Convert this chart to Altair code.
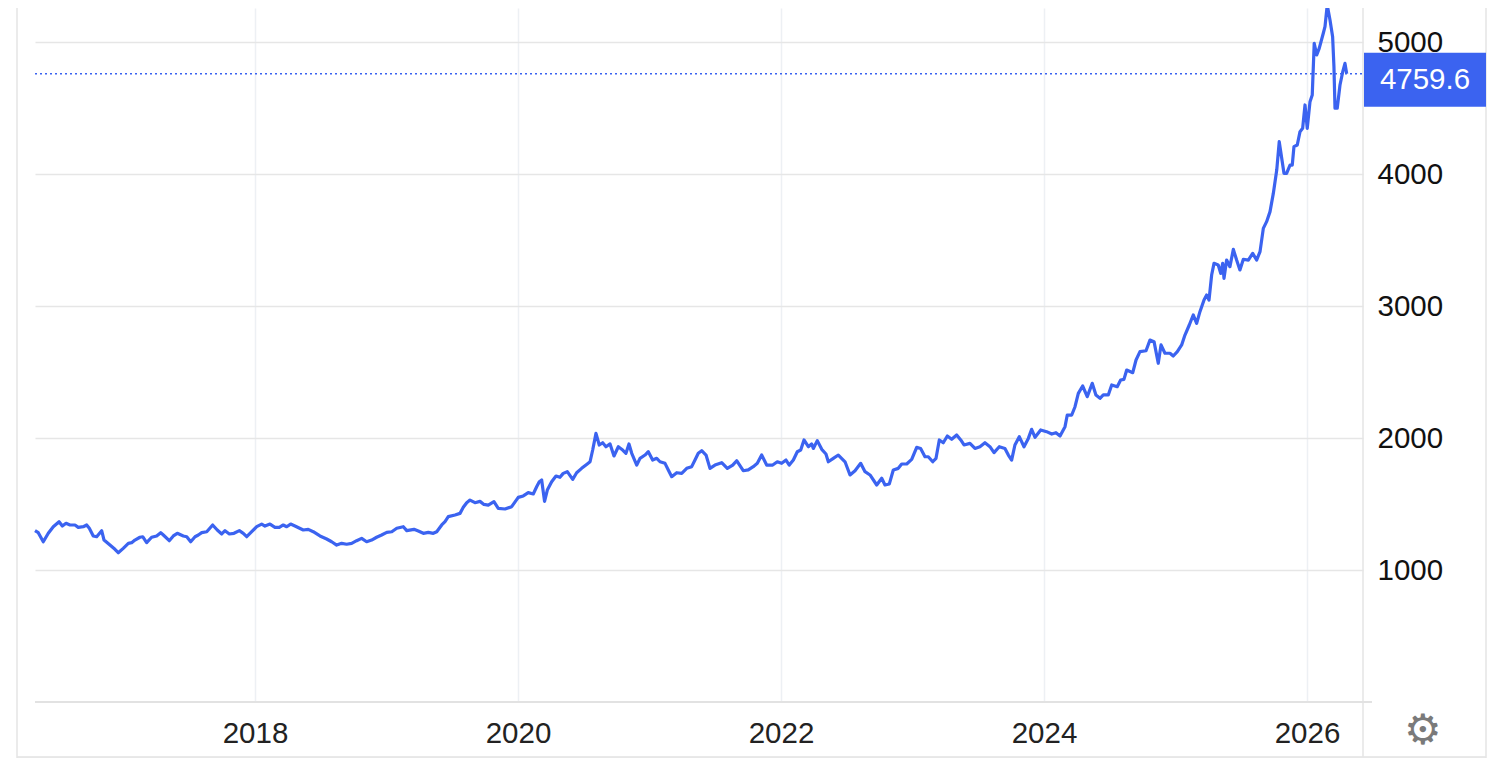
import altair as alt
import pandas as pd

# ---- data (time in decimal years, price in USD) ----
t = [
    2016.327, 2016.352, 2016.390, 2016.428, 2016.466, 2016.510, 2016.535, 2016.563, 2016.593, 2016.631,
    2016.656, 2016.694, 2016.720, 2016.740, 2016.770, 2016.796, 2016.834, 2016.852, 2016.897, 2016.935,
    2016.960, 2016.998, 2017.037, 2017.062, 2017.087, 2017.125, 2017.146, 2017.176, 2017.214, 2017.252,
    2017.283, 2017.303, 2017.348, 2017.379, 2017.409, 2017.455, 2017.481, 2017.511, 2017.544, 2017.569,
    2017.595, 2017.633, 2017.678, 2017.713, 2017.747, 2017.772, 2017.805, 2017.840, 2017.881, 2017.911,
    2017.937, 2017.975, 2018.013, 2018.051, 2018.076, 2018.114, 2018.152, 2018.185, 2018.215, 2018.241,
    2018.271, 2018.304,
    2018.367, 2018.405, 2018.443, 2018.494, 2018.545, 2018.583, 2018.621, 2018.659, 2018.697, 2018.735,
    2018.773, 2018.811, 2018.849, 2018.887, 2018.925, 2018.963, 2019.002, 2019.040, 2019.078, 2019.128,
    2019.154, 2019.209, 2019.242, 2019.280, 2019.318, 2019.356, 2019.382, 2019.420, 2019.445, 2019.470,
    2019.521, 2019.559, 2019.584, 2019.610, 2019.635, 2019.673, 2019.711, 2019.741, 2019.774, 2019.817,
    2019.850, 2019.901, 2019.952, 2020.002, 2020.040, 2020.078, 2020.116, 2020.142, 2020.162, 2020.180,
    2020.202, 2020.223, 2020.256, 2020.289, 2020.319, 2020.344, 2020.375, 2020.416, 2020.446, 2020.484,
    2020.522, 2020.548, 2020.568, 2020.593, 2020.618, 2020.644, 2020.669, 2020.700, 2020.730, 2020.763,
    2020.796, 2020.821, 2020.844, 2020.865, 2020.903, 2020.928, 2020.966, 2020.991, 2021.024, 2021.055,
    2021.080, 2021.118, 2021.143, 2021.169, 2021.207, 2021.245, 2021.283, 2021.321, 2021.346, 2021.371,
    2021.397, 2021.430, 2021.460, 2021.498, 2021.549, 2021.592, 2021.633, 2021.663, 2021.713, 2021.751,
    2021.789, 2021.820, 2021.853, 2021.891, 2021.937, 2021.972, 2022.005, 2022.038, 2022.063, 2022.094,
    2022.124, 2022.150, 2022.175, 2022.208, 2022.233, 2022.246, 2022.276, 2022.310, 2022.342, 2022.360,
    2022.398, 2022.436, 2022.487, 2022.525, 2022.563, 2022.606, 2022.639, 2022.677, 2022.728, 2022.766,
    2022.791, 2022.824, 2022.854, 2022.892, 2022.918, 2022.956, 2022.994, 2023.032, 2023.062, 2023.095,
    2023.120, 2023.154, 2023.179, 2023.204, 2023.234, 2023.265, 2023.298, 2023.336, 2023.367, 2023.392,
    2023.437, 2023.475, 2023.513, 2023.551, 2023.589, 2023.620, 2023.660, 2023.703, 2023.729, 2023.754,
    2023.779, 2023.812, 2023.848, 2023.881, 2023.906, 2023.932, 2023.975, 2024.020, 2024.059, 2024.091,
    2024.122, 2024.160, 2024.177, 2024.211, 2024.236, 2024.261, 2024.294, 2024.329, 2024.367, 2024.395,
    2024.426, 2024.451, 2024.489, 2024.515, 2024.557, 2024.583, 2024.608, 2024.629, 2024.675, 2024.700,
    2024.730, 2024.776, 2024.806, 2024.837, 2024.869, 2024.890, 2024.920, 2024.958, 2024.983, 2025.014,
    2025.047, 2025.072, 2025.105, 2025.135, 2025.161, 2025.186, 2025.217, 2025.237, 2025.255, 2025.275,
    2025.293, 2025.325, 2025.344, 2025.359, 2025.369, 2025.389, 2025.414, 2025.440, 2025.465, 2025.490,
    2025.516, 2025.554, 2025.587, 2025.617, 2025.643, 2025.668, 2025.693, 2025.719, 2025.744, 2025.770,
    2025.789, 2025.825, 2025.845, 2025.871, 2025.888, 2025.901, 2025.926, 2025.947, 2025.967, 2025.985,
    2026.002, 2026.023, 2026.040, 2026.055, 2026.074, 2026.093, 2026.124, 2026.137, 2026.154, 2026.175,
    2026.195, 2026.205, 2026.213, 2026.230, 2026.251, 2026.272, 2026.289, 2026.302,
]
price = [
    1298, 1283, 1214, 1278, 1328, 1366, 1333, 1354, 1341, 1341,
    1323, 1328, 1341, 1316, 1258, 1252, 1298, 1227, 1189, 1157,
    1131, 1164, 1202, 1207, 1227, 1248, 1252, 1207, 1248, 1258,
    1283, 1265, 1222, 1258, 1278, 1258, 1252, 1214, 1252, 1265,
    1283, 1290, 1341, 1303, 1273, 1298, 1273, 1278, 1298, 1278,
    1252, 1290, 1328, 1348, 1333, 1348, 1323, 1323, 1341, 1328,
    1348, 1333,
    1303, 1308, 1290, 1258, 1235, 1214, 1189, 1202, 1195, 1202,
    1222, 1240, 1214, 1227, 1248, 1265, 1285, 1290, 1316, 1328,
    1298, 1308, 1295, 1278, 1285, 1278, 1290, 1341, 1366, 1404,
    1417, 1429, 1475, 1510, 1530, 1510, 1520, 1497, 1492, 1518,
    1467, 1462, 1480, 1550, 1561, 1586, 1576, 1631, 1669, 1682,
    1520, 1606, 1669, 1712, 1702, 1732, 1745, 1687, 1737, 1770,
    1800, 1820, 1909, 2035, 1947, 1964, 1934, 1955, 1864, 1934,
    1909, 1884, 1955, 1884, 1795, 1846, 1871, 1896, 1833, 1846,
    1820, 1808, 1758, 1707, 1737, 1732, 1770, 1783, 1833, 1884,
    1904, 1871, 1770, 1795, 1813, 1770, 1795, 1828, 1752, 1758,
    1783, 1808, 1871, 1795, 1795, 1820, 1808, 1833, 1795, 1833,
    1896, 1909, 1985, 1934, 1955, 1921, 1980, 1914, 1879, 1820,
    1846, 1871, 1820, 1720, 1752, 1808, 1745, 1720, 1644, 1695,
    1644, 1652, 1758, 1770, 1803, 1803, 1838, 1929, 1921, 1858,
    1858, 1820, 1846, 1985, 1964, 2015, 1990, 2023, 1985, 1947,
    1959, 1921, 1934, 1964, 1934, 1889, 1934, 1921, 1871, 1833,
    1947, 2010, 1934, 1997, 2066, 2005, 2061, 2048, 2030, 2040,
    2015, 2086, 2174, 2174, 2237, 2338, 2394, 2313, 2414, 2326,
    2301, 2326, 2326, 2402, 2389, 2439, 2444, 2515, 2495, 2591,
    2654, 2661, 2742, 2730, 2566, 2705, 2642, 2642, 2621, 2654,
    2705, 2780, 2856, 2932, 2869, 2957, 3045, 3083, 3045, 3235,
    3323, 3311, 3247, 3323, 3210, 3348, 3298, 3429, 3348, 3273,
    3354, 3348, 3399, 3348, 3412, 3588, 3639, 3715, 3853, 4030,
    4245, 4005, 4005, 4068, 4068, 4207, 4220, 4321, 4346, 4523,
    4346, 4548, 4598, 4990, 4902, 4952, 5066, 5116, 5280, 5167,
    5040, 4813, 4498, 4498, 4674, 4775, 4838, 4759.6,
]
year_ticks = [2018, 2020, 2022, 2024, 2026]
price_ticks = [1000, 2000, 3000, 4000, 5000]
last_price = 4759.6
last_label = "4759.6"

# ---- styling ----
BLUE = "#3b63f0"
FONT = "Liberation Sans"
W, H = 1328, 694

df = pd.DataFrame({"t": t, "price": price})
last_df = pd.DataFrame({"v": [last_price], "label": [last_label]})
one = pd.DataFrame({"a": [0]})

x_scale = alt.Scale(domain=[2016.327, 2026.426], nice=False, zero=False)
y_scale = alt.Scale(domain=[0, 5257.6], nice=False, zero=False)

x_axis = alt.Axis(values=year_ticks, format="d", grid=True, gridColor="#edf0f4",
                  gridWidth=1.5, domain=False, ticks=False, tickSize=0,
                  labelPadding=17, labelFontSize=29.5, labelColor="#222222",
                  labelFont=FONT, title=None, labelFlush=False)
y_axis = alt.Axis(orient="right", values=price_ticks, format="d", grid=True, gridColor="#e6e6e6",
                  gridWidth=1.5, domain=False, ticks=False, tickSize=0,
                  labelPadding=14, labelFontSize=29.5, labelColor="#111111",
                  labelFont=FONT, labelAlign="left", labelBaseline="middle", title=None)

band = alt.Chart(one).mark_rect(color="#f6f6f6").encode(
    x=alt.value(-18), x2=alt.value(1451), y=alt.value(749), y2=alt.value(800))
band_line = alt.Chart(one).mark_rule(color="#e2e2e2", strokeWidth=1.5).encode(
    x=alt.value(-18), x2=alt.value(1451), y=alt.value(749))
left_border = alt.Chart(one).mark_rule(color="#e4e4e4", strokeWidth=1.5).encode(
    x=alt.value(-18), y=alt.value(0), y2=alt.value(800))
right_border = alt.Chart(one).mark_rule(color="#e4e4e4", strokeWidth=1.5).encode(
    x=alt.value(1451), y=alt.value(0), y2=alt.value(800))
edge = alt.Chart(one).mark_rule(color="#e4e4e4", strokeWidth=1.5).encode(
    x=alt.value(W), y=alt.value(0), y2=alt.value(749))
baseline = alt.Chart(one).mark_rule(color="#e2e2e2", strokeWidth=2).encode(
    x=alt.value(0), x2=alt.value(W + 9), y=alt.value(H))

line = alt.Chart(df).mark_line(color=BLUE, strokeWidth=3.2, strokeJoin="round").encode(
    x=alt.X("t:Q", scale=x_scale, axis=x_axis),
    y=alt.Y("price:Q", scale=y_scale, axis=y_axis),
)

dotted = alt.Chart(last_df).mark_rule(color=BLUE, strokeWidth=1.5, strokeDash=[2, 3]).encode(
    y=alt.Y("v:Q", scale=y_scale), x=alt.value(0), x2=alt.value(W))

tag = alt.Chart(last_df).mark_rect(color=BLUE, height=54, yOffset=6).encode(
    y=alt.Y("v:Q", scale=y_scale), x=alt.value(W + 1), x2=alt.value(1451))

tag_text = alt.Chart(last_df).mark_text(color="white", fontSize=29.5, font=FONT,
                                        align="center", baseline="middle", dy=6).encode(
    y=alt.Y("v:Q", scale=y_scale), x=alt.value(1390), text="label:N")

gear = alt.Chart(one).mark_text(text="\u2699", fontSize=42, color="#7a7a7a",
                                align="center", baseline="middle").encode(
    x=alt.value(1388), y=alt.value(723))

chart = alt.layer(
    band, band_line, left_border, right_border, edge, baseline,
    line, dotted, tag, tag_text, gear
).properties(
    width=W, height=H,
    padding={"left": 27, "top": 0, "right": 125, "bottom": 56},
    autosize=alt.AutoSizeParams(type="none"),
).configure_view(stroke=None)

chart.save("out.html", embed_options={"renderer": "svg", "actions": False})
